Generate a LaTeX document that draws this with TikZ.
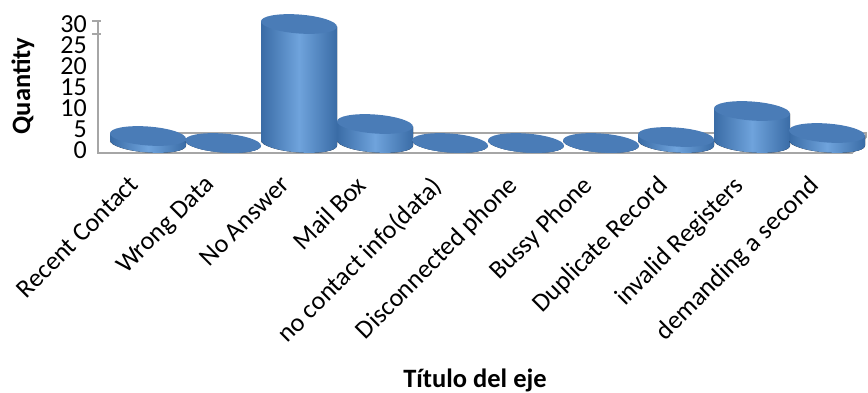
\documentclass[tikz,border=0pt]{standalone}
\usepackage{fontspec}
\setmainfont{Carlito}
\definecolor{cdark}{HTML}{3A6CA6}
\definecolor{clight}{HTML}{6FA3DC}
\definecolor{ctop}{HTML}{4A7CB7}
\definecolor{cgrid}{HTML}{A6A6A6}
\tikzset{
  ticklab/.style={anchor=east,inner sep=0pt,font=\fontsize{26}{28}\selectfont},
  catlab/.style={anchor=north east,rotate=45,inner sep=0pt,font=\fontsize{26}{28}\selectfont},
  axtitle/.style={inner sep=0pt,font=\bfseries\fontsize{26.5}{28}\selectfont},
  axisline/.style={draw=cgrid,line width=1.8pt},
}
% #1 centre x, #2 height in px, #3 name
\newcommand\mycyl[3]{%
  \begin{scope}[shift={(#1,143)},yslant=-0.07]
    \fill[left color=cdark,right color=cdark,middle color=clight]
      (38,-#2) -- (38,0) arc[start angle=0,end angle=180,x radius=38,y radius=9.5] -- (-38,-#2) -- cycle;
    \fill[ctop] (0,-#2) ellipse[x radius=38,y radius=9.5];
    \coordinate (#3) at (0,10);
  \end{scope}}
\begin{document}
\begin{tikzpicture}[x=1pt,y=-1pt]
\useasboundingbox (0,0) rectangle (868,392);
\fill[white] (0,0) rectangle (868,392);
% floor and axis
\coordinate (fl) at (98,153);
\coordinate (fr) at (852,153);
\coordinate (br) at (866,137);
\coordinate (bbr) at (866,133);
\coordinate (bl) at (112,133);
\coordinate (at) at (98,21);
\draw[axisline] (bl) -- (bbr) -- (br) -- (fr) -- (fl) -- (at);
\draw[axisline] (92,21) -- (101,21);
\draw[axisline] (92,34) -- (101,34);
% tick labels
\foreach \v/\y in {30/24,25/45,20/66,15/87,10/108,5/129,0/150}
  \node[ticklab] (t\v) at (87,\y) {\v};
\node[axtitle,rotate=90] (qt) at (23,86) {Quantity};
% cylinders
\mycyl{148}{7}{c1}
\mycyl{223}{0}{c2}
\mycyl{299}{119}{c3}
\mycyl{375}{19}{c4}
\mycyl{450}{0}{c5}
\mycyl{526}{0}{c6}
\mycyl{601}{0}{c7}
\mycyl{676}{6}{c8}
\mycyl{752}{32}{c9}
\mycyl{827}{10}{c10}
% category labels
\foreach \x/\t [count=\i] in {148/Recent Contact,223/Wrong Data,299/No Answer,375/Mail Box,450/no contact info(data),526/Disconnected phone,601/Bussy Phone,676/Duplicate Record,752/invalid Registers,827/demanding a second}
  \node[catlab] (l\i) at (\x-20,174) {\t};
\node[axtitle,anchor=base] (xt) at (475,387) {Título del eje};
\end{tikzpicture}
\end{document}
